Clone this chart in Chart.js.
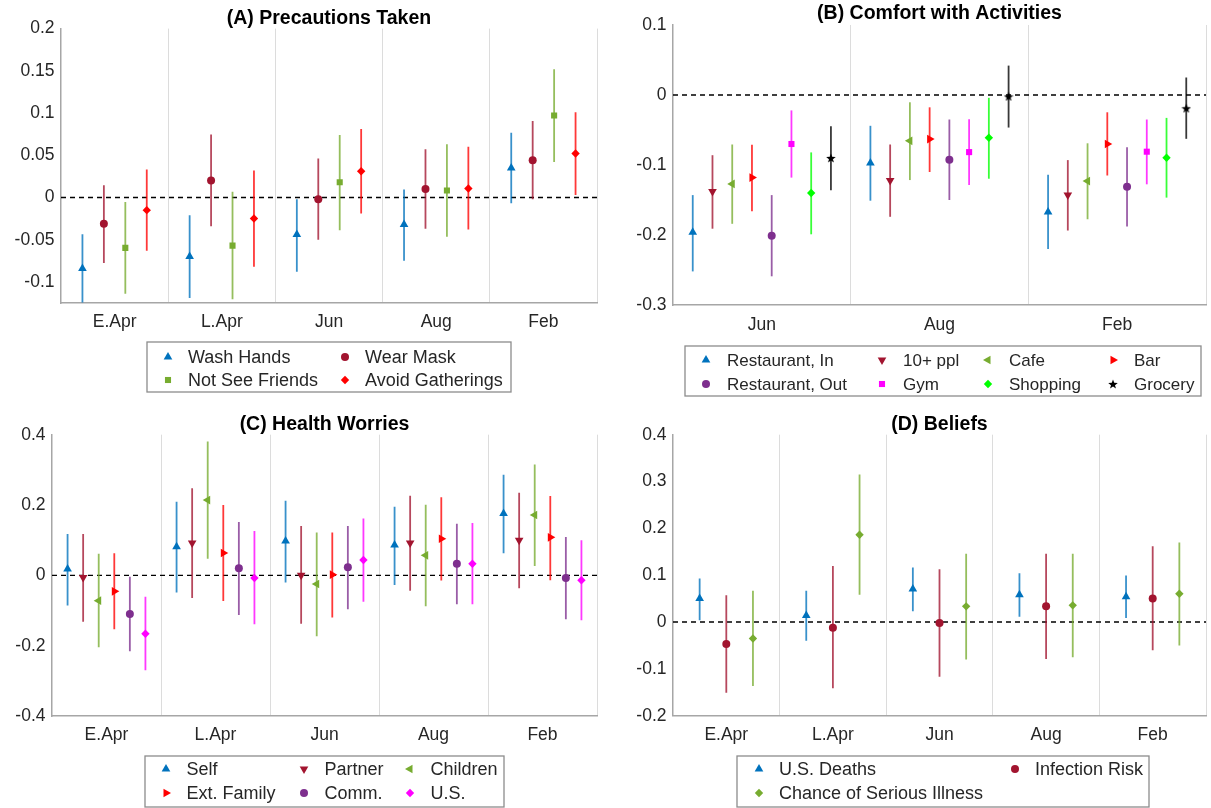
<!DOCTYPE html>
<html>
<head>
<meta charset="utf-8">
<script src="https://cdn.jsdelivr.net/npm/chart.js@4/dist/chart.umd.min.js"></script>
<style>
  html, body { margin: 0; padding: 0; background: #fff; }
  body { width: 1211px; height: 808px; position: relative; overflow: hidden; }
  canvas { position: absolute; }
</style>
</head>
<body>
<canvas id="cA" width="605" height="400" style="left:0;top:0"></canvas>
<canvas id="cB" width="606" height="400" style="left:605px;top:0"></canvas>
<canvas id="cC" width="605" height="408" style="left:0;top:400px"></canvas>
<canvas id="cD" width="606" height="408" style="left:605px;top:400px"></canvas>
<script>
// ---------------- DATA ----------------
// Panel A: Precautions Taken
const catsA = ['E.Apr', 'L.Apr', 'Jun', 'Aug', 'Feb'];
const yTicksA = [-0.1, -0.05, 0, 0.05, 0.1, 0.15, 0.2];
const washHandsEst = [-0.084, -0.070, -0.044, -0.032, 0.035];
const washHandsLo  = [-0.1245, -0.119, -0.088, -0.075, -0.007];
const washHandsHi  = [-0.0435, -0.021, -0.002, 0.0095, 0.0767];
const wearMaskEst = [-0.031, 0.020, -0.002, 0.010, 0.044];
const wearMaskLo  = [-0.0775, -0.034, -0.050, -0.037, -0.002];
const wearMaskHi  = [0.0146, 0.0747, 0.046, 0.057, 0.0905];
const notSeeFriendsEst = [-0.0597, -0.057, 0.018, 0.0083, 0.097];
const notSeeFriendsLo  = [-0.114, -0.1205, -0.0387, -0.0466, 0.042];
const notSeeFriendsHi  = [-0.0055, 0.0067, 0.074, 0.063, 0.152];
const avoidGatherEst = [-0.015, -0.025, 0.031, 0.0107, 0.052];
const avoidGatherLo  = [-0.063, -0.082, -0.019, -0.038, 0.003];
const avoidGatherHi  = [0.033, 0.032, 0.081, 0.060, 0.101];

// Panel B: Comfort with Activities
const catsB = ['Jun', 'Aug', 'Feb'];
const yTicksB = [-0.3, -0.2, -0.1, 0, 0.1];
const restInEst = [-0.196, -0.097, -0.167];
const restInLo  = [-0.252, -0.151, -0.220];
const restInHi  = [-0.143, -0.044, -0.114];
const tenPplEst = [-0.138, -0.122, -0.143];
const tenPplLo  = [-0.191, -0.174, -0.1936];
const tenPplHi  = [-0.086, -0.0707, -0.093];
const cafeEst = [-0.127, -0.0655, -0.123];
const cafeLo  = [-0.184, -0.1215, -0.1775];
const cafeHi  = [-0.0707, -0.0104, -0.069];
const barEst = [-0.118, -0.063, -0.070];
const barLo  = [-0.166, -0.110, -0.115];
const barHi  = [-0.071, -0.0176, -0.0247];
const restOutEst = [-0.201, -0.0925, -0.131];
const restOutLo  = [-0.259, -0.150, -0.188];
const restOutHi  = [-0.143, -0.035, -0.0745];
const gymEst = [-0.070, -0.0816, -0.081];
const gymLo  = [-0.118, -0.1286, -0.1276];
const gymHi  = [-0.022, -0.0346, -0.035];
const shoppingEst = [-0.140, -0.061, -0.0897];
const shoppingLo  = [-0.199, -0.1196, -0.1466];
const shoppingHi  = [-0.082, -0.004, -0.0327];
const groceryEst = [-0.090, -0.002, -0.019];
const groceryLo  = [-0.136, -0.0465, -0.0626];
const groceryHi  = [-0.0446, 0.042, 0.025];

// Panel C: Health Worries
const catsC = ['E.Apr', 'L.Apr', 'Jun', 'Aug', 'Feb'];
const yTicksC = [-0.4, -0.2, 0, 0.2, 0.4];
const selfEst = [0.018, 0.0815, 0.0976, 0.086, 0.176];
const selfLo  = [-0.086, -0.049, -0.020, -0.0275, 0.0626];
const selfHi  = [0.1175, 0.2095, 0.212, 0.195, 0.286];
const partnerEst = [-0.006, 0.092, 0.0, 0.092, 0.0995];
const partnerLo  = [-0.132, -0.0645, -0.138, -0.0436, -0.037];
const partnerHi  = [0.1175, 0.248, 0.140, 0.2265, 0.235];
const childrenEst = [-0.072, 0.214, -0.0246, 0.057, 0.1716];
const childrenLo  = [-0.2047, 0.047, -0.1735, -0.088, 0.0265];
const childrenHi  = [0.0616, 0.381, 0.122, 0.201, 0.315];
const extFamilyEst = [-0.0455, 0.0635, 0.002, 0.104, 0.108];
const extFamilyLo  = [-0.1536, -0.073, -0.120, -0.015, -0.014];
const extFamilyHi  = [0.0626, 0.200, 0.122, 0.222, 0.2256];
const commEst = [-0.110, 0.020, 0.0227, 0.033, -0.0076];
const commLo  = [-0.216, -0.1128, -0.0967, -0.0825, -0.125];
const commHi  = [-0.004, 0.1517, 0.140, 0.147, 0.109];
const usEst = [-0.166, -0.0076, 0.0436, 0.033, -0.014];
const usLo  = [-0.270, -0.139, -0.075, -0.0825, -0.128];
const usHi  = [-0.061, 0.126, 0.162, 0.149, 0.0995];

// Panel D: Beliefs
const catsD = ['E.Apr', 'L.Apr', 'Jun', 'Aug', 'Feb'];
const yTicksD = [-0.2, -0.1, 0, 0.1, 0.2, 0.3, 0.4];
const usDeathsEst = [0.050, 0.014, 0.0705, 0.058, 0.054];
const usDeathsLo  = [0.0036, -0.040, 0.0228, 0.0114, 0.0085];
const usDeathsHi  = [0.093, 0.067, 0.1167, 0.104, 0.0996];
const infectionEst = [-0.047, -0.012, -0.002, 0.0335, 0.0505];
const infectionLo  = [-0.151, -0.1416, -0.1167, -0.079, -0.060];
const infectionHi  = [0.057, 0.1196, 0.1125, 0.146, 0.162];
const seriousEst = [-0.035, 0.1865, 0.0335, 0.0356, 0.0605];
const seriousLo  = [-0.1367, 0.058, -0.080, -0.0754, -0.050];
const seriousHi  = [0.067, 0.315, 0.146, 0.146, 0.170];

// ---------------- STYLE ----------------
const FONT = "'Liberation Sans', Arial, Helvetica, sans-serif";
const C_BLUE = '#0072BD', C_DRED = '#A2142F', C_GREEN = '#77AC30', C_RED = '#FF0000',
      C_PURPLE = '#7E2F8E', C_MAG = '#FF00FF', C_LIME = '#00FF00', C_BLACK = '#000000';
const AXIS_COLOR = '#a6a6a6', GRID_COLOR = '#dcdcdc', TEXT_COLOR = '#262626';

function hexA(hex, a) {
  const n = parseInt(hex.slice(1), 16);
  return `rgba(${(n >> 16) & 255},${(n >> 8) & 255},${n & 255},${a})`;
}
function pentagram(size, color) {
  const c = document.createElement('canvas');
  c.width = c.height = size;
  const g = c.getContext('2d');
  g.fillStyle = color;
  g.beginPath();
  const R = size / 2, r = R * 0.42;
  for (let k = 0; k < 10; k++) {
    const a = -Math.PI / 2 + k * Math.PI / 5;
    const rr = k % 2 ? r : R;
    g.lineTo(R + rr * Math.cos(a), R + 0.5 + rr * Math.sin(a));
  }
  g.closePath();
  g.fill();
  return c;
}
const MK = {
  up:    { pointStyle: 'triangle', rot: 0,   r: 5 },
  down:  { pointStyle: 'triangle', rot: 180, r: 5 },
  left:  { pointStyle: 'triangle', rot: 270, r: 5 },
  right: { pointStyle: 'triangle', rot: 90,  r: 5 },
  circle:{ pointStyle: 'circle',   rot: 0,   r: 4 },
  square:{ pointStyle: 'rect',     rot: 0,   r: 4.3 },
  diamond:{ pointStyle: 'rectRot', rot: 0,   r: 4.2 },
  star:  { pointStyle: pentagram(10, '#000'), rot: 0, r: 5 }
};

// ---------------- PLUGINS ----------------
const errorBarPlugin = {
  id: 'errorBars',
  beforeDatasetDraw(chart, args) {
    const ds = chart.data.datasets[args.index];
    if (!ds.errorColor) return;
    const { ctx, chartArea: a, scales: { x, y } } = chart;
    ctx.save();
    ctx.beginPath();
    ctx.rect(a.left, a.top, a.right - a.left, a.bottom - a.top);
    ctx.clip();
    ctx.strokeStyle = ds.errorColor;
    ctx.lineWidth = 1.8;
    ds.data.forEach(p => {
      const px = x.getPixelForValue(p.x);
      ctx.beginPath();
      ctx.moveTo(px, y.getPixelForValue(p.lo));
      ctx.lineTo(px, y.getPixelForValue(p.hi));
      ctx.stroke();
    });
    ctx.restore();
  }
};

const boxLegendPlugin = {
  id: 'boxLegend',
  afterDraw(chart, args, o) {
    if (!o || !o.box) return;
    const ctx = chart.ctx;
    ctx.save();
    ctx.strokeStyle = o.borderColor;
    ctx.lineWidth = o.borderWidth;
    ctx.strokeRect(o.box[0], o.box[1], o.box[2], o.box[3]);
    ctx.font = `${o.fontSize}px ${FONT}`;
    ctx.textBaseline = 'middle';
    ctx.textAlign = 'left';
    const items = chart.data.datasets.filter(d => d.errorColor);
    const nc = o.colX.length;
    items.forEach((d, k) => {
      const mx = o.colX[k % nc], my = o.rowY[Math.floor(k / nc)];
      ctx.fillStyle = d.pointBackgroundColor;
      ctx.strokeStyle = d.pointBorderColor;
      Chart.helpers.drawPoint(ctx, {
        pointStyle: d.pointStyle, rotation: d.pointRotation || 0,
        radius: d.pointRadius, borderWidth: 0
      }, mx, my);
      ctx.fillStyle = o.color;
      ctx.fillText(d.label, mx + o.textGap, my + 1);
    });
    ctx.restore();
  }
};

// ---------------- BUILDER ----------------
function series(label, est, lo, hi, color, marker) {
  return { label, est, lo, hi, color, marker };
}

function makePanel(canvasId, cfg) {
  const cats = cfg.cats, n = cfg.series.length, N = cats.length;
  const datasets = cfg.series.map((s, i) => {
    const off = (i - (n - 1) / 2) / (n + 1);
    const m = MK[s.marker];
    return {
      type: 'scatter',
      label: s.label,
      data: cats.map((c, k) => ({ x: k + off, y: s.est[k], lo: s.lo[k], hi: s.hi[k] })),
      pointStyle: m.pointStyle,
      pointRotation: m.rot,
      pointRadius: m.r,
      pointHoverRadius: m.r,
      pointBackgroundColor: s.color,
      pointBorderColor: s.color,
      pointBorderWidth: 0,
      showLine: false,
      errorColor: hexA(s.color, 0.78),
      order: 1
    };
  });
  datasets.push({
    type: 'line',
    label: 'zero',
    data: [{ x: -0.5, y: 0 }, { x: N - 0.5, y: 0 }],
    borderColor: '#000',
    borderWidth: 1.4,
    borderDash: [5, 4],
    pointRadius: 0,
    order: 10
  });

  return new Chart(document.getElementById(canvasId), {
    type: 'scatter',
    data: { datasets },
    plugins: [errorBarPlugin, boxLegendPlugin],
    options: {
      responsive: false,
      animation: false,
      events: [],
      layout: { padding: cfg.padding },
      plugins: {
        legend: { display: false },
        tooltip: { enabled: false },
        title: {
          display: true,
          text: cfg.title,
          fullSize: false,
          color: '#000',
          font: { family: FONT, size: 19.5, weight: 'bold', lineHeight: 1 },
          padding: cfg.titlePadding
        },
        boxLegend: cfg.legend
      },
      scales: {
        x: {
          type: 'linear',
          min: -0.5,
          max: N - 0.5,
          afterBuildTicks: ax => { ax.ticks = cats.map((c, i) => ({ value: i })); },
          afterFit: s => { s.height = 30; },
          ticks: {
            autoSkip: false,
            maxRotation: 0,
            color: TEXT_COLOR,
            padding: cfg.xTickPad,
            font: { family: FONT, size: 17.5 },
            callback: v => cats[Math.round(v)]
          },
          grid: {
            offset: true,
            drawTicks: false,
            lineWidth: 1,
            color: ctx => (ctx.index === 0 || ctx.index === N) ? 'rgba(0,0,0,0)' : GRID_COLOR
          },
          border: { display: true, color: AXIS_COLOR, width: 1.5 }
        },
        y: {
          type: 'linear',
          min: cfg.yMin,
          max: cfg.yMax,
          afterBuildTicks: ax => { ax.ticks = cfg.yTicks.map(v => ({ value: v })); },
          afterFit: s => { s.width = cfg.yWidth; },
          ticks: {
            color: TEXT_COLOR,
            padding: 6.5,
            font: { family: FONT, size: 17.5 },
            callback: v => String(Math.round(v * 1000) / 1000)
          },
          grid: { display: false, drawTicks: false },
          border: { display: true, color: AXIS_COLOR, width: 1.5 }
        }
      }
    }
  });
}

const legendBase = { borderColor: '#8c8c8c', borderWidth: 1.3, color: TEXT_COLOR, textGap: 20 };

makePanel('cA', {
  title: '(A) Precautions Taken',
  cats: catsA, yMin: -0.125, yMax: 0.2, yTicks: yTicksA, yWidth: 61,
  padding: { left: 0, right: 8, top: 0, bottom: 67 },
  titlePadding: { top: 8.5, bottom: 0.6 },
  xTickPad: 8.5,
  series: [
    series('Wash Hands', washHandsEst, washHandsLo, washHandsHi, C_BLUE, 'up'),
    series('Wear Mask', wearMaskEst, wearMaskLo, wearMaskHi, C_DRED, 'circle'),
    series('Not See Friends', notSeeFriendsEst, notSeeFriendsLo, notSeeFriendsHi, C_GREEN, 'square'),
    series('Avoid Gatherings', avoidGatherEst, avoidGatherLo, avoidGatherHi, C_RED, 'diamond')
  ],
  legend: Object.assign({}, legendBase, {
    box: [147, 342, 364, 50], colX: [168, 345], rowY: [357, 380], fontSize: 18
  })
});

makePanel('cB', {
  title: '(B) Comfort with Activities',
  cats: catsB, yMin: -0.3, yMax: 0.1, yTicks: yTicksB, yWidth: 68,
  padding: { left: 0, right: 1, top: 0, bottom: 65 },
  titlePadding: { top: 4.2, bottom: 1.3 },
  xTickPad: 9.5,
  series: [
    series('Restaurant, In', restInEst, restInLo, restInHi, C_BLUE, 'up'),
    series('10+ ppl', tenPplEst, tenPplLo, tenPplHi, C_DRED, 'down'),
    series('Cafe', cafeEst, cafeLo, cafeHi, C_GREEN, 'left'),
    series('Bar', barEst, barLo, barHi, C_RED, 'right'),
    series('Restaurant, Out', restOutEst, restOutLo, restOutHi, C_PURPLE, 'circle'),
    series('Gym', gymEst, gymLo, gymHi, C_MAG, 'square'),
    series('Shopping', shoppingEst, shoppingLo, shoppingHi, C_LIME, 'diamond'),
    series('Grocery', groceryEst, groceryLo, groceryHi, C_BLACK, 'star')
  ],
  legend: Object.assign({}, legendBase, {
    box: [80, 346, 516, 50], colX: [101, 277, 383, 508], rowY: [360, 384], fontSize: 17, textGap: 21
  })
});

makePanel('cC', {
  title: '(C) Health Worries',
  cats: catsC, yMin: -0.4, yMax: 0.4, yTicks: yTicksC, yWidth: 52,
  padding: { left: 0, right: 8, top: 0, bottom: 62 },
  titlePadding: { top: 14.5, bottom: 0.7 },
  xTickPad: 8.5,
  series: [
    series('Self', selfEst, selfLo, selfHi, C_BLUE, 'up'),
    series('Partner', partnerEst, partnerLo, partnerHi, C_DRED, 'down'),
    series('Children', childrenEst, childrenLo, childrenHi, C_GREEN, 'left'),
    series('Ext. Family', extFamilyEst, extFamilyLo, extFamilyHi, C_RED, 'right'),
    series('Comm.', commEst, commLo, commHi, C_PURPLE, 'circle'),
    series('U.S.', usEst, usLo, usHi, C_MAG, 'diamond')
  ],
  legend: Object.assign({}, legendBase, {
    box: [145, 356, 359, 51], colX: [166, 304, 410], rowY: [369, 393], fontSize: 18, textGap: 20.5
  })
});

makePanel('cD', {
  title: '(D) Beliefs',
  cats: catsD, yMin: -0.2, yMax: 0.4, yTicks: yTicksD, yWidth: 68,
  padding: { left: 0, right: 1, top: 0, bottom: 62.3 },
  titlePadding: { top: 14.5, bottom: 0.7 },
  xTickPad: 8.8,
  series: [
    series('U.S. Deaths', usDeathsEst, usDeathsLo, usDeathsHi, C_BLUE, 'up'),
    series('Infection Risk', infectionEst, infectionLo, infectionHi, C_DRED, 'circle'),
    series('Chance of Serious Illness', seriousEst, seriousLo, seriousHi, C_GREEN, 'diamond')
  ],
  legend: Object.assign({}, legendBase, {
    box: [132, 356, 412, 51], colX: [154, 410], rowY: [369, 393], fontSize: 18
  })
});
</script>
</body>
</html>
